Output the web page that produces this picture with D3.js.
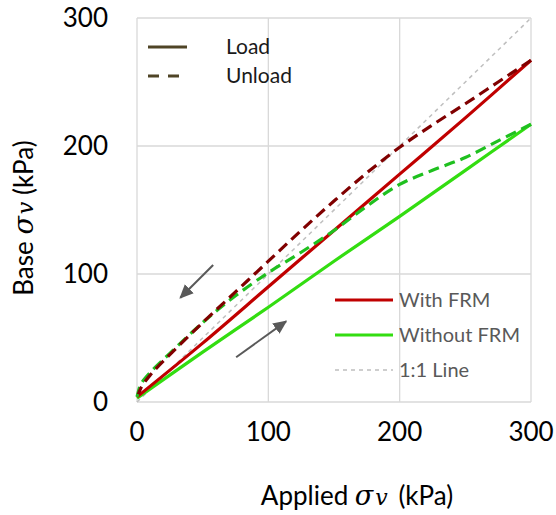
<!DOCTYPE html>
<html>
<head>
<meta charset="utf-8">
<script src="https://cdn.jsdelivr.net/npm/d3@7"></script>
<style>
  body { margin: 0; background: #fff; }
  svg text { font-family: Lato, "Open Sans", sans-serif; }
</style>
</head>
<body>
<div id="chart"></div>
<script>
// applied stress (kPa) for each branch
const withLoadX   = [0, 50, 100, 150, 200, 250, 300];
const withLoadY   = [4, 46, 90, 134, 178, 222, 267];
const withUnloadX = [300, 275, 250, 225, 200, 175, 150, 125, 100, 75, 50, 25, 10, 3, 1];
const withUnloadY = [267, 250, 233, 216.5, 199, 179, 157, 134, 110, 86, 62, 37, 21, 11, 6];
const woLoadX     = [0, 50, 100, 150, 200, 250, 300];
const woLoadY     = [3, 39, 74, 110, 145, 181, 217];
const woUnloadX   = [300, 275, 250, 225, 200, 175, 150, 125, 100, 75, 50, 25, 10, 3, 1, 0];
const woUnloadY   = [217, 204, 191, 181, 170, 153, 134, 117, 101, 83, 62, 38, 23, 14, 8, 4];
const oneToOne    = [0, 300];
const ticks       = [0, 100, 200, 300];
// direction arrows [x1, y1, x2, y2] in kPa
const arrows = [[58, 107, 33, 81.5], [75.5, 35, 113.5, 63]];

const W = 556, H = 515;
const margin = { top: 18, right: 25, bottom: 113, left: 137 };

const svg = d3.select("#chart").append("svg")
  .attr("width", W).attr("height", H);

const x = d3.scaleLinear().domain([0, 300]).range([margin.left, W - margin.right]);
const y = d3.scaleLinear().domain([0, 300]).range([H - margin.bottom, margin.top]);

// grid
svg.append("g").selectAll("line.v").data(ticks).enter().append("line")
  .attr("x1", d => x(d)).attr("x2", d => x(d))
  .attr("y1", y(0)).attr("y2", y(300))
  .attr("stroke", "#d9d9d9").attr("stroke-width", 1.3);
svg.append("g").selectAll("line.h").data(ticks).enter().append("line")
  .attr("x1", x(0)).attr("x2", x(300))
  .attr("y1", d => y(d)).attr("y2", d => y(d))
  .attr("stroke", "#d9d9d9").attr("stroke-width", 1.3);

// tick labels
svg.append("g").selectAll("text").data(ticks).enter().append("text")
  .attr("x", d => x(d)).attr("y", y(0) + 39)
  .attr("text-anchor", "middle").attr("font-size", 26).attr("fill", "#000")
  .text(d => d);
svg.append("g").selectAll("text").data(ticks).enter().append("text")
  .attr("x", 108).attr("y", d => y(d)).attr("dy", "0.35em")
  .attr("text-anchor", "end").attr("font-size", 26).attr("fill", "#000")
  .text(d => d);

// axis titles
const mathPart = (t) => {
  t.append("tspan").attr("font-family", "DejaVu Serif").attr("font-style", "italic")
    .attr("font-size", 27).text("σ");
  t.append("tspan").attr("font-family", "DejaVu Serif").attr("font-style", "italic")
    .attr("font-size", 22).attr("dx", 2).text("v");
};
const xt = svg.append("text").attr("x", 357).attr("y", 505)
  .attr("text-anchor", "middle").attr("font-size", 26).attr("fill", "#000");
xt.append("tspan").text("Applied ");
mathPart(xt);
xt.append("tspan").attr("dx", 4).text(" (kPa)");

const yt = svg.append("text").attr("transform", "translate(33,218) rotate(-90)")
  .attr("text-anchor", "middle").attr("font-size", 26).attr("fill", "#000");
yt.append("tspan").text("Base ");
mathPart(yt);
yt.append("tspan").text(" (kPa)");

const line = d3.line().x(d => x(d[0])).y(d => y(d[1])).curve(d3.curveCatmullRom);
const zip = (a, b) => a.map((v, i) => [v, b[i]]);

// 1:1 line
svg.append("path").datum(zip(oneToOne, oneToOne)).attr("d", line)
  .attr("fill", "none").attr("stroke", "#bfbfbf").attr("stroke-width", 1.5)
  .attr("stroke-dasharray", "4,4");

const series = [
  { xs: woLoadX, ys: woLoadY, color: "#33dd11", dash: null },
  { xs: withLoadX, ys: withLoadY, color: "#c00000", dash: null },
  { xs: woUnloadX, ys: woUnloadY, color: "#1fc01f", dash: "11,6" },
  { xs: withUnloadX, ys: withUnloadY, color: "#800000", dash: "11,6" }
];
series.forEach(s => {
  svg.append("path").datum(zip(s.xs, s.ys)).attr("d", line)
    .attr("fill", "none").attr("stroke", s.color).attr("stroke-width", 3.2)
    .attr("stroke-linejoin", "round")
    .attr("stroke-dasharray", s.dash);
});

// arrows
svg.append("defs").append("marker")
  .attr("id", "arr").attr("viewBox", "0 0 10 10").attr("refX", 9).attr("refY", 5)
  .attr("markerWidth", 7).attr("markerHeight", 7).attr("orient", "auto")
  .append("path").attr("d", "M0,0.5 L10,5 L0,9.5 z").attr("fill", "#595959");
svg.append("g").selectAll("line").data(arrows).enter().append("line")
  .attr("x1", d => x(d[0])).attr("y1", d => y(d[1]))
  .attr("x2", d => x(d[2])).attr("y2", d => y(d[3]))
  .attr("stroke", "#595959").attr("stroke-width", 2)
  .attr("marker-end", "url(#arr)");

// legend: load / unload
const lg1 = [{ label: "Load", dash: null }, { label: "Unload", dash: "11,9" }];
lg1.forEach((d, i) => {
  const ly = 47 + i * 29;
  svg.append("line").attr("x1", 148).attr("x2", 187).attr("y1", ly).attr("y2", ly)
    .attr("stroke", "#4f4426").attr("stroke-width", 3.2).attr("stroke-dasharray", d.dash);
  svg.append("text").attr("x", 226).attr("y", ly).attr("dy", "0.35em")
    .attr("font-size", 21).attr("fill", "#1a1a1a").text(d.label);
});

// legend: series
const lg2 = [
  { label: "With FRM", color: "#c00000", w: 3.2, dash: null },
  { label: "Without FRM", color: "#33dd11", w: 3.2, dash: null },
  { label: "1:1 Line", color: "#bfbfbf", w: 1.5, dash: "4,4" }
];
lg2.forEach((d, i) => {
  const ly = 300 + i * 35;
  svg.append("line").attr("x1", 335).attr("x2", 393).attr("y1", ly).attr("y2", ly)
    .attr("stroke", d.color).attr("stroke-width", d.w).attr("stroke-dasharray", d.dash);
  svg.append("text").attr("x", 399).attr("y", ly).attr("dy", "0.35em")
    .attr("font-size", 20).attr("fill", "#595959").text(d.label);
});
</script>
</body>
</html>
